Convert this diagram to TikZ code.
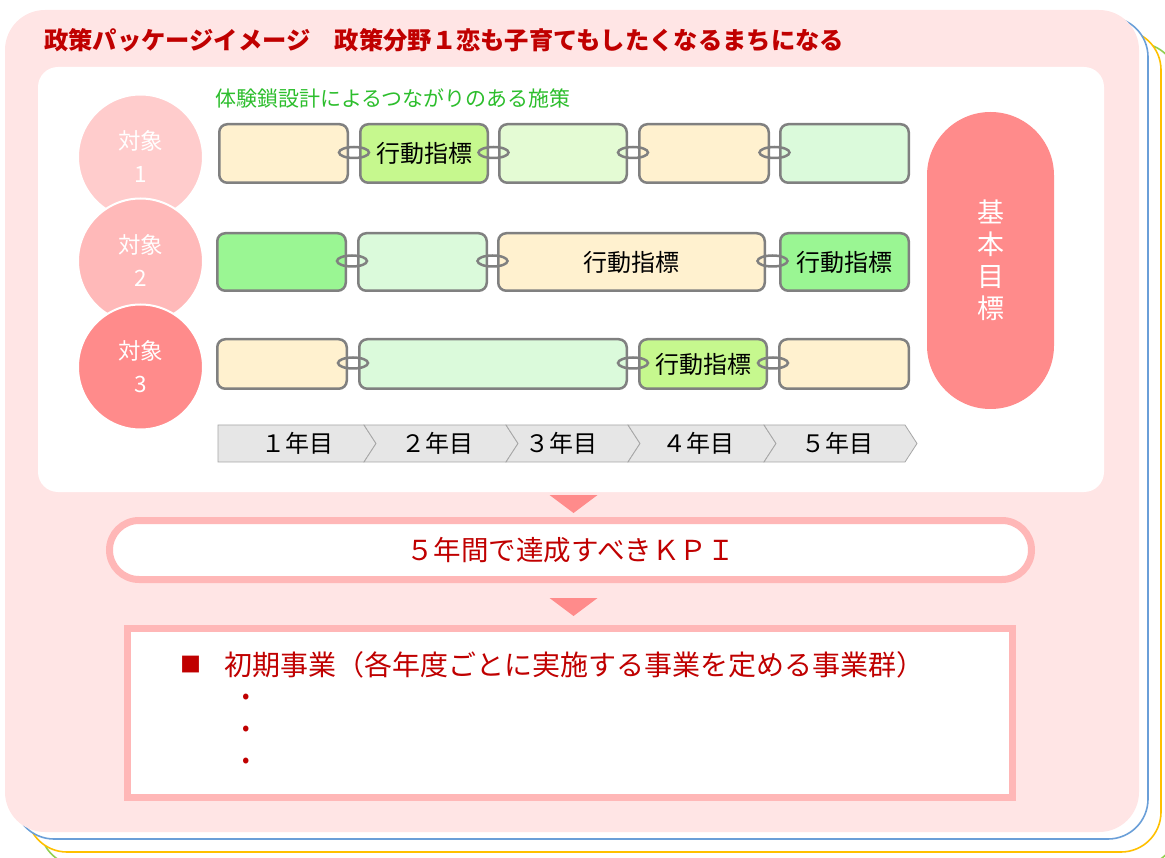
\documentclass[tikz,border=0pt]{standalone}
\usepackage{fontspec}
\setmainfont{Noto Sans CJK JP}
\usetikzlibrary{calc}
\definecolor{pinkbg}{HTML}{FFE5E5}
\definecolor{kpipink}{HTML}{FFB7B7}
\definecolor{tripink}{HTML}{FF8B8B}
\definecolor{cone}{HTML}{FFCCCC}
\definecolor{ctwo}{HTML}{FFB9B9}
\definecolor{cthree}{HTML}{FF8B8B}
\definecolor{beige}{HTML}{FFF1CF}
\definecolor{ygreen}{HTML}{C6F88E}
\definecolor{lgreen}{HTML}{E4FBD4}
\definecolor{pgreen}{HTML}{DBFADB}
\definecolor{mgreen}{HTML}{9AF693}
\definecolor{boxgray}{HTML}{808080}
\definecolor{tlfill}{HTML}{E6E6E6}
\definecolor{tlline}{HTML}{A6A6A6}
\definecolor{titlered}{HTML}{C00000}
\definecolor{subgreen}{HTML}{2DBE2D}
\definecolor{lnblue}{HTML}{6A9FD8}
\definecolor{lnyellow}{HTML}{FFC000}
\definecolor{lngreen}{HTML}{92D050}
\tikzset{
  box/.style={draw=boxgray, line width=2.5pt, rounded corners=8pt, inner sep=0pt, font=\fontsize{24}{26}\selectfont},
  ring/.style={draw=boxgray, line width=2.5pt},
  target/.style={circle, minimum size=125pt, draw=white, line width=2pt, text=white, align=center, inner sep=0pt, font=\fontsize{22.5}{33}\selectfont},
  yearlbl/.style={inner sep=0pt, font=\fontsize{24}{26}\selectfont},
  chev/.style={fill=tlfill, draw=tlline, line width=0.8pt},
  tri/.style={fill=tripink},
  backcard/.style={fill=white, line width=1.6pt, rounded corners=40pt},
  redtext/.style={text=titlered, inner sep=0pt, font=\fontsize{27.5}{30}\selectfont},
  dot/.style={text=titlered, inner sep=0pt, font=\fontsize{22}{24}\selectfont},
}
\begin{document}
\begin{tikzpicture}[x=1pt,y=-1pt]
\useasboundingbox (0,0) rectangle (1165,858);
% stacked cards
\draw[backcard, draw=lngreen] (40,43) rectangle (1178,866);
\draw[backcard, draw=lnyellow] (27,30) rectangle (1161,852);
\draw[backcard, draw=lnblue] (14,17) rectangle (1148,839);
\fill[pinkbg, rounded corners=40pt] (5,10) rectangle (1139,832);
% inner white panel
\fill[white, rounded corners=20pt] (38,67) rectangle (1104,492);
% title
\node[anchor=west, inner sep=0pt, text=titlered, font=\bfseries\fontsize{24.3}{28}\selectfont] (title) at (44,40) {政策パッケージイメージ　政策分野１恋も子育てもしたくなるまちになる};
\node[anchor=west, inner sep=0pt, text=subgreen, font=\fontsize{21}{24}\selectfont] (sub) at (215,98) {体験鎖設計によるつながりのある施策};
% targets
\node[target, fill=cone] (t1) at (140.5,157) {対象\\1};
\node[target, fill=ctwo] (t2) at (140.5,261) {対象\\2};
\node[target, fill=cthree] (t3) at (140.5,367) {対象\\3};
% row 1
\node[box, fill=beige,  minimum width=128.5pt, minimum height=58.5pt] (b11) at (283.5,153.5) {};
\node[box, fill=ygreen, minimum width=127.5pt, minimum height=58.5pt] (b12) at (424,153.5) {行動指標};
\node[box, fill=lgreen, minimum width=127.5pt, minimum height=58.5pt] (b13) at (563,153.5) {};
\node[box, fill=beige,  minimum width=129.5pt, minimum height=58.5pt] (b14) at (704,153.5) {};
\node[box, fill=pgreen, minimum width=128.5pt, minimum height=58.5pt] (b15) at (844.5,153.5) {};
% row 2
\node[box, fill=mgreen, minimum width=128.5pt, minimum height=57.5pt] (b21) at (281.5,262) {};
\node[box, fill=pgreen, minimum width=128.5pt, minimum height=57.5pt] (b22) at (422.5,262) {};
\node[box, fill=beige,  minimum width=266.5pt, minimum height=57.5pt] (b23) at (631.5,262) {行動指標};
\node[box, fill=mgreen, minimum width=128.5pt, minimum height=57.5pt] (b24) at (844.5,262) {行動指標};
% row 3
\node[box, fill=beige,  minimum width=129.5pt, minimum height=49.5pt] (b31) at (282,364) {};
\node[box, fill=pgreen, minimum width=267.5pt, minimum height=49.5pt] (b32) at (493,364) {};
\node[box, fill=ygreen, minimum width=127.5pt, minimum height=49.5pt] (b33) at (703,364) {行動指標};
\node[box, fill=beige,  minimum width=129.5pt, minimum height=49.5pt] (b34) at (844,364) {};
% rings
\foreach \a/\b in {b11/b12,b12/b13,b13/b14,b14/b15,b21/b22,b22/b23,b23/b24,b31/b32,b32/b33,b33/b34}{
  \draw[ring] ($(\a.east)!0.5!(\b.west)+(0,-1)$) ellipse [x radius=15pt, y radius=5.5pt];
}
% goal
\node[fill=tripink, rounded corners=63.5pt, minimum width=127pt, minimum height=297pt, inner sep=0pt, text=white, align=center, font=\fontsize{27}{32}\selectfont] (goal) at (990.5,260.5) {基\\本\\目\\標};
% timeline
\def\ty{425}\def\tb{462}\def\tm{443.5}
\draw[chev] (218,\ty) -- (364,\ty) -- (376,\tm) -- (364,\tb) -- (218,\tb) -- cycle;
\draw[chev] (364,\ty) -- (506,\ty) -- (518,\tm) -- (506,\tb) -- (364,\tb) -- (376,\tm) -- cycle;
\draw[chev] (506,\ty) -- (628,\ty) -- (640,\tm) -- (628,\tb) -- (506,\tb) -- (518,\tm) -- cycle;
\draw[chev] (628,\ty) -- (764,\ty) -- (776,\tm) -- (764,\tb) -- (628,\tb) -- (640,\tm) -- cycle;
\draw[chev] (764,\ty) -- (905,\ty) -- (917,\tm) -- (905,\tb) -- (764,\tb) -- (776,\tm) -- cycle;
\node[yearlbl] (y1) at (297,\tm) {１年目};
\node[yearlbl] (y2) at (437,\tm) {２年目};
\node[yearlbl] (y3) at (561,\tm) {３年目};
\node[yearlbl] (y4) at (698,\tm) {４年目};
\node[yearlbl] (y5) at (837,\tm) {５年目};
% arrows
\fill[tri] (549.5,495) -- (597.5,495) -- (573.5,513) -- cycle;
\fill[tri] (549.5,598) -- (597.5,598) -- (573.5,616) -- cycle;
% KPI
\node[draw=kpipink, line width=7pt, fill=white, rounded corners=29.5pt, minimum width=922pt, minimum height=59pt, redtext] (kpi) at (570.5,550) {５年間で達成すべきＫＰＩ};
% bottom box
\node[draw=kpipink, line width=7pt, fill=white, minimum width=885pt, minimum height=169pt, inner sep=0pt] (init) at (570,713) {};
\node[text=titlered, inner sep=0pt, font=\fontsize{21}{22}\selectfont] (sq) at (190.5,664.5) {■};
\node[redtext, anchor=west, font=\fontsize{28}{30}\selectfont] (inittext) at (224,665) {初期事業（各年度ごとに実施する事業を定める事業群）};
\node[dot] (d1) at (246,699) {•};
\node[dot] (d2) at (246,731) {•};
\node[dot] (d3) at (246,763) {•};
\end{tikzpicture}
\end{document}
